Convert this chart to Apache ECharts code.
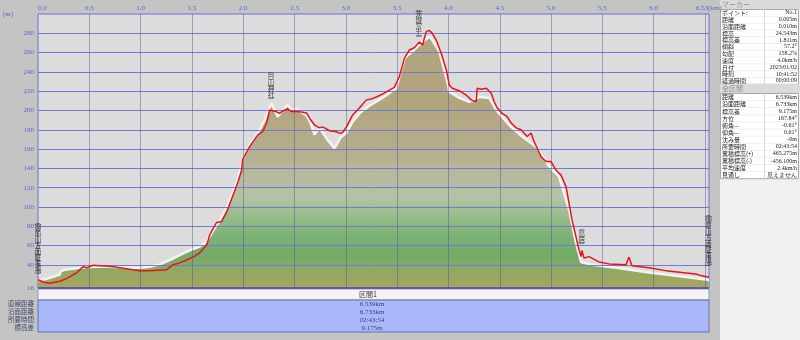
<!DOCTYPE html>
<html><head><meta charset="utf-8">
<script src="https://cdn.jsdelivr.net/npm/echarts@6/dist/echarts.min.js"></script>
<style>html,body{margin:0;padding:0;background:#c4c4c4}#c{width:800px;height:340px}</style>
</head><body><div id="c"></div><script>
// ---- data ----
const trackKm = [0,0.058,0.117,0.165,0.214,0.282,0.331,0.379,0.438,0.477,0.535,0.603,0.700,0.798,0.924,0.992,1.089,1.255,1.313,1.381,1.449,1.527,1.576,1.644,1.673,1.741,1.790,1.839,1.897,1.946,1.984,1.994,2.043,2.062,2.140,2.189,2.228,2.257,2.276,2.315,2.354,2.393,2.432,2.471,2.519,2.568,2.617,2.646,2.695,2.743,2.772,2.792,2.840,2.909,2.938,2.967,3.006,3.064,3.132,3.200,3.249,3.298,3.356,3.424,3.473,3.521,3.570,3.619,3.667,3.716,3.735,3.750,3.765,3.784,3.813,3.842,3.881,3.930,3.979,4.008,4.037,4.105,4.173,4.222,4.270,4.280,4.319,4.368,4.416,4.446,4.475,4.523,4.572,4.611,4.660,4.708,4.767,4.805,4.835,4.864,4.903,4.951,5.000,5.049,5.097,5.146,5.175,5.204,5.243,5.272,5.292,5.301,5.321,5.370,5.467,5.564,5.730,5.739,5.759,5.788,5.953,6.119,6.274,6.411,6.469,6.527,6.539];
const trackElev = [24.5,22,21,22,23,26,29,32,38,37,39.5,39,38.5,37,35,34,34,35,40,42,45,49,52.5,60.5,71,84,85,95,111,125,138,149,159,162.5,174.5,178,187,200.5,201,199,197,200,201.5,199,199,198.5,197.4,192,185,182,183,182,179,178,176.5,177,183,195,202.6,211,212,214,217,221,224,235,254,262.7,265,271,272,268,275,281.7,283,280,273,259,242,226.5,223,220.5,216,211,209,223,222,223,218,209,202.6,197,193.6,187,182,180,173,176.6,167.7,161,152,147,147,138,133,121,104,86.6,69,55.5,48.5,55,47,48.5,43,41,40,38.5,48,39,37,34,32,30.5,28.6,27.5,27.5];
const terrainKm = [0,0.068,0.214,0.219,0.263,0.409,0.554,0.700,0.798,0.895,0.992,1.089,1.187,1.284,1.381,1.479,1.576,1.634,1.702,1.770,1.839,1.936,1.994,2.062,2.140,2.208,2.276,2.335,2.383,2.432,2.471,2.519,2.568,2.617,2.656,2.695,2.743,2.821,2.889,2.918,2.947,3.006,3.064,3.132,3.230,3.356,3.492,3.570,3.648,3.735,3.813,3.842,3.911,3.988,4.008,4.105,4.202,4.300,4.397,4.465,4.591,4.718,4.854,4.981,5.078,5.175,5.243,5.292,5.399,5.632,5.953,6.274,6.527,6.539];
const terrainElev = [24,25,30,33,35,37,38,38,37.5,37,37,38,40.5,45,50,55,59,63,74.5,86,100,125,149,165,176,190,207.5,193.6,200,205.7,201,202,198,195,187,175,182,169.5,161,166,172,177,188,197,205,213,223,254,261,270,276.5,273,261,230,219.5,213,209,214,213,200.5,185,173,162.5,142,131.5,97,62.7,43,40,37,32,28,24.5,24.5];
const xTicks = [0.5,1.0,1.5,2.0,2.5,3.0,3.5,4.0,4.5,5.0,5.5,6.0,6.5];
const yTicks = [16,40,60,80,100,120,140,160,180,200,220,240,260,280,300];
const waypointNames = ['御前山方面駐車場','白山神社','茨城富士','鳥居','御前山方面駐車場'];
const waypointKm = [0.0,2.271,3.711,5.30,6.535];
const waypointElev = [24.5,206.5,270,55.5,33];
const sectionName = '区間1';
const summaryLabels = ['直線距離','沿面距離','所要時間','標高差'];
const summaryValues = ['6.539km','6.733km','02:43:54','9.175m'];
const markerLabels = ['ポイント:','距離','沿面距離','標高','標高差','傾斜','勾配','速度','日付','時刻','経過時間'];
const markerValues = ['No.1','0.005m','0.010m','24.543m','1.811m','57.2°','158.2%','4.0km/h','2023/01/02','10:41:52','00:00:09'];
const totalLabels = ['距離','沿面距離','標高差','方位','俯角—','仰角—','沈み量','所要時間','累積標高(+)','累積標高(-)','平均速度','見通し'];
const totalValues = ['6.539km','6.733km','9.175m','167.84°','-0.61°','0.61°','-0m','02:43:54','465.275m','-456.100m','2.4km/h','見えません'];

// ---- build ----
const zip = (a,b) => a.map((v,i)=>[v,b[i]]);
const CJK = '"Noto Sans CJK JP", sans-serif';
const SERIF = '"Liberation Serif", "DejaVu Serif", serif';
const axisBlue = '#5c66c8';
const chart = echarts.init(document.getElementById('c'), null, {renderer:'canvas'});
const GL = 38, GT = 14, GR = 91, GB = 52;
const vert = s => ['︵', ...s.split(''), '︶'].join('\n');

const graphics = [];
graphics.push({type:'rect', shape:{x:GL, y:289, width:671, height:11}, style:{fill:'#f6f3f3', stroke:'#9a9ab0', lineWidth:1}, silent:true});
graphics.push({type:'rect', shape:{x:GL, y:300, width:671, height:32}, style:{fill:'#a8b8fa', stroke:'#6470b4', lineWidth:1}, silent:true});
graphics.push({type:'text', x:368, y:294.5, style:{text:sectionName, font:'7px '+CJK, fill:'#303040', align:'center', verticalAlign:'middle'}, silent:true});
summaryLabels.forEach((t,i)=>{
  graphics.push({type:'text', x:34, y:304+i*7.9, style:{text:t, font:'6.5px '+CJK, fill:'#404868', align:'right', verticalAlign:'middle'}, silent:true});
  graphics.push({type:'text', x:372, y:304+i*7.9, style:{text:summaryValues[i], font:'7px '+SERIF, fill:'#3c4478', align:'center', verticalAlign:'middle'}, silent:true});
});
graphics.push({type:'text', x:3, y:14, style:{text:'[m]', font:'7px '+SERIF, fill:axisBlue, align:'left', verticalAlign:'middle'}, silent:true});
graphics.push({type:'rect', shape:{x:720, y:0, width:80, height:340}, style:{fill:'#f0f0f0'}, silent:true});
function table(title, y0, rowH, labels, values){
  graphics.push({type:'rect', shape:{x:720, y:y0, width:80, height:9}, style:{fill:'#dadada'}, silent:true});
  graphics.push({type:'text', x:722, y:y0+4.5, style:{text:title, font:'7px '+CJK, fill:'#909090', align:'left', verticalAlign:'middle'}, silent:true});
  const ty = y0+9.5, h = rowH*labels.length;
  graphics.push({type:'rect', shape:{x:720.5, y:ty, width:78, height:h}, style:{fill:'#ffffff', stroke:'#a8a8a8', lineWidth:1}, silent:true});
  graphics.push({type:'line', shape:{x1:764.5, y1:ty, x2:764.5, y2:ty+h}, style:{stroke:'#d8d8d8', lineWidth:1}, silent:true});
  labels.forEach((t,i)=>{
    const cy = ty + rowH*i + rowH/2;
    if(i>0) graphics.push({type:'line', shape:{x1:721, y1:ty+rowH*i, x2:798, y2:ty+rowH*i}, style:{stroke:'#e4e4e4', lineWidth:0.6}, silent:true});
    graphics.push({type:'text', x:722, y:cy, style:{text:t, font:'6px '+CJK, fill:'#202020', align:'left', verticalAlign:'middle'}, silent:true});
    graphics.push({type:'text', x:797, y:cy, style:{text:values[i], font:'6px '+SERIF, fill:'#202020', align:'right', verticalAlign:'middle'}, silent:true});
  });
}
table('マーカー', 0, 6.8, markerLabels, markerValues);
table('全区間', 84, 7.1, totalLabels, totalValues);

const gradient = {type:'linear', x:0, y:GT, x2:0, y2:340-GB, global:true, colorStops:[
  {offset:0, color:'#b3a47c'},{offset:0.35, color:'#b2a67f'},{offset:0.49, color:'#b4ad8b'},
  {offset:0.60, color:'#b7bb9f'},{offset:0.67, color:'#b4c2a6'},{offset:0.74, color:'#98bc8a'},
  {offset:0.81, color:'#7cb274'},{offset:0.88, color:'#74aa68'},{offset:0.93, color:'#8caa64'},
  {offset:1, color:'#aca45e'}]};

const option = {
  animation:false,
  backgroundColor:'#c4c4c4',
  grid:{left:GL, right:GR, top:GT, bottom:GB, show:true, backgroundColor:'#dcdcdc', borderColor:'#6a72d4', borderWidth:1},
  xAxis:{type:'value', position:'top', min:0, max:6.539, interval:0.5,
    axisLine:{show:false}, axisTick:{show:false}, splitLine:{show:false},
    axisLabel:{show:true, margin:2, color:axisBlue, fontSize:7, fontFamily:SERIF, showMaxLabel:true, alignMinLabel:'left',
      formatter:v => v>6.52 ? '6.53[km]' : (Math.abs(v-6.5)<1e-6 ? '' : v.toFixed(1))}},
  yAxis:{type:'value', min:16, max:300, axisLine:{show:false}, axisTick:{show:false}, splitLine:{show:false}, axisLabel:{show:false}},
  graphic:{elements:graphics},
  series:[
    {type:'line', name:'terrain', data:zip(terrainKm, terrainElev), symbol:'none', z:1,
      lineStyle:{color:'#f3f3f3', width:2.5}, areaStyle:{color:gradient, opacity:1}},
    {type:'line', name:'grid', data:[], z:2, silent:true,
      markLine:{silent:true, symbol:['none','none'], z:2, animation:false,
        data:[
          ...yTicks.map(v=>({yAxis:v, lineStyle:{color: v===16 ? '#5a5ab8' : '#707ada', width: v===16 ? 2 : 1, type:'solid', opacity: (v===300)?0:1},
             label:{show:true, position:'start', distance:4, formatter:String(v), color:axisBlue, fontSize:7, fontFamily:SERIF}})),
          ...xTicks.map(v=>({xAxis:v, lineStyle:{color:'rgba(80,80,140,0.45)', width:1, type:'solid'}, label:{show:false}}))
        ]}},
    {type:'line', name:'track', data:zip(trackKm, trackElev), symbol:'none', z:3,
      lineStyle:{color:'#e8141c', width:1.5}},
    {type:'scatter', name:'waypoints', z:4, symbolSize:0,
      data:waypointNames.map((n,i)=>({name:n, value:[waypointKm[i], waypointElev[i]]})),
      label:{show:true, position:'top', distance:1, formatter:p=>vert(p.name), fontSize:6.5, lineHeight:6, color:'#101010', fontFamily:CJK}}
  ]
};
chart.setOption(option);
</script></body></html>
